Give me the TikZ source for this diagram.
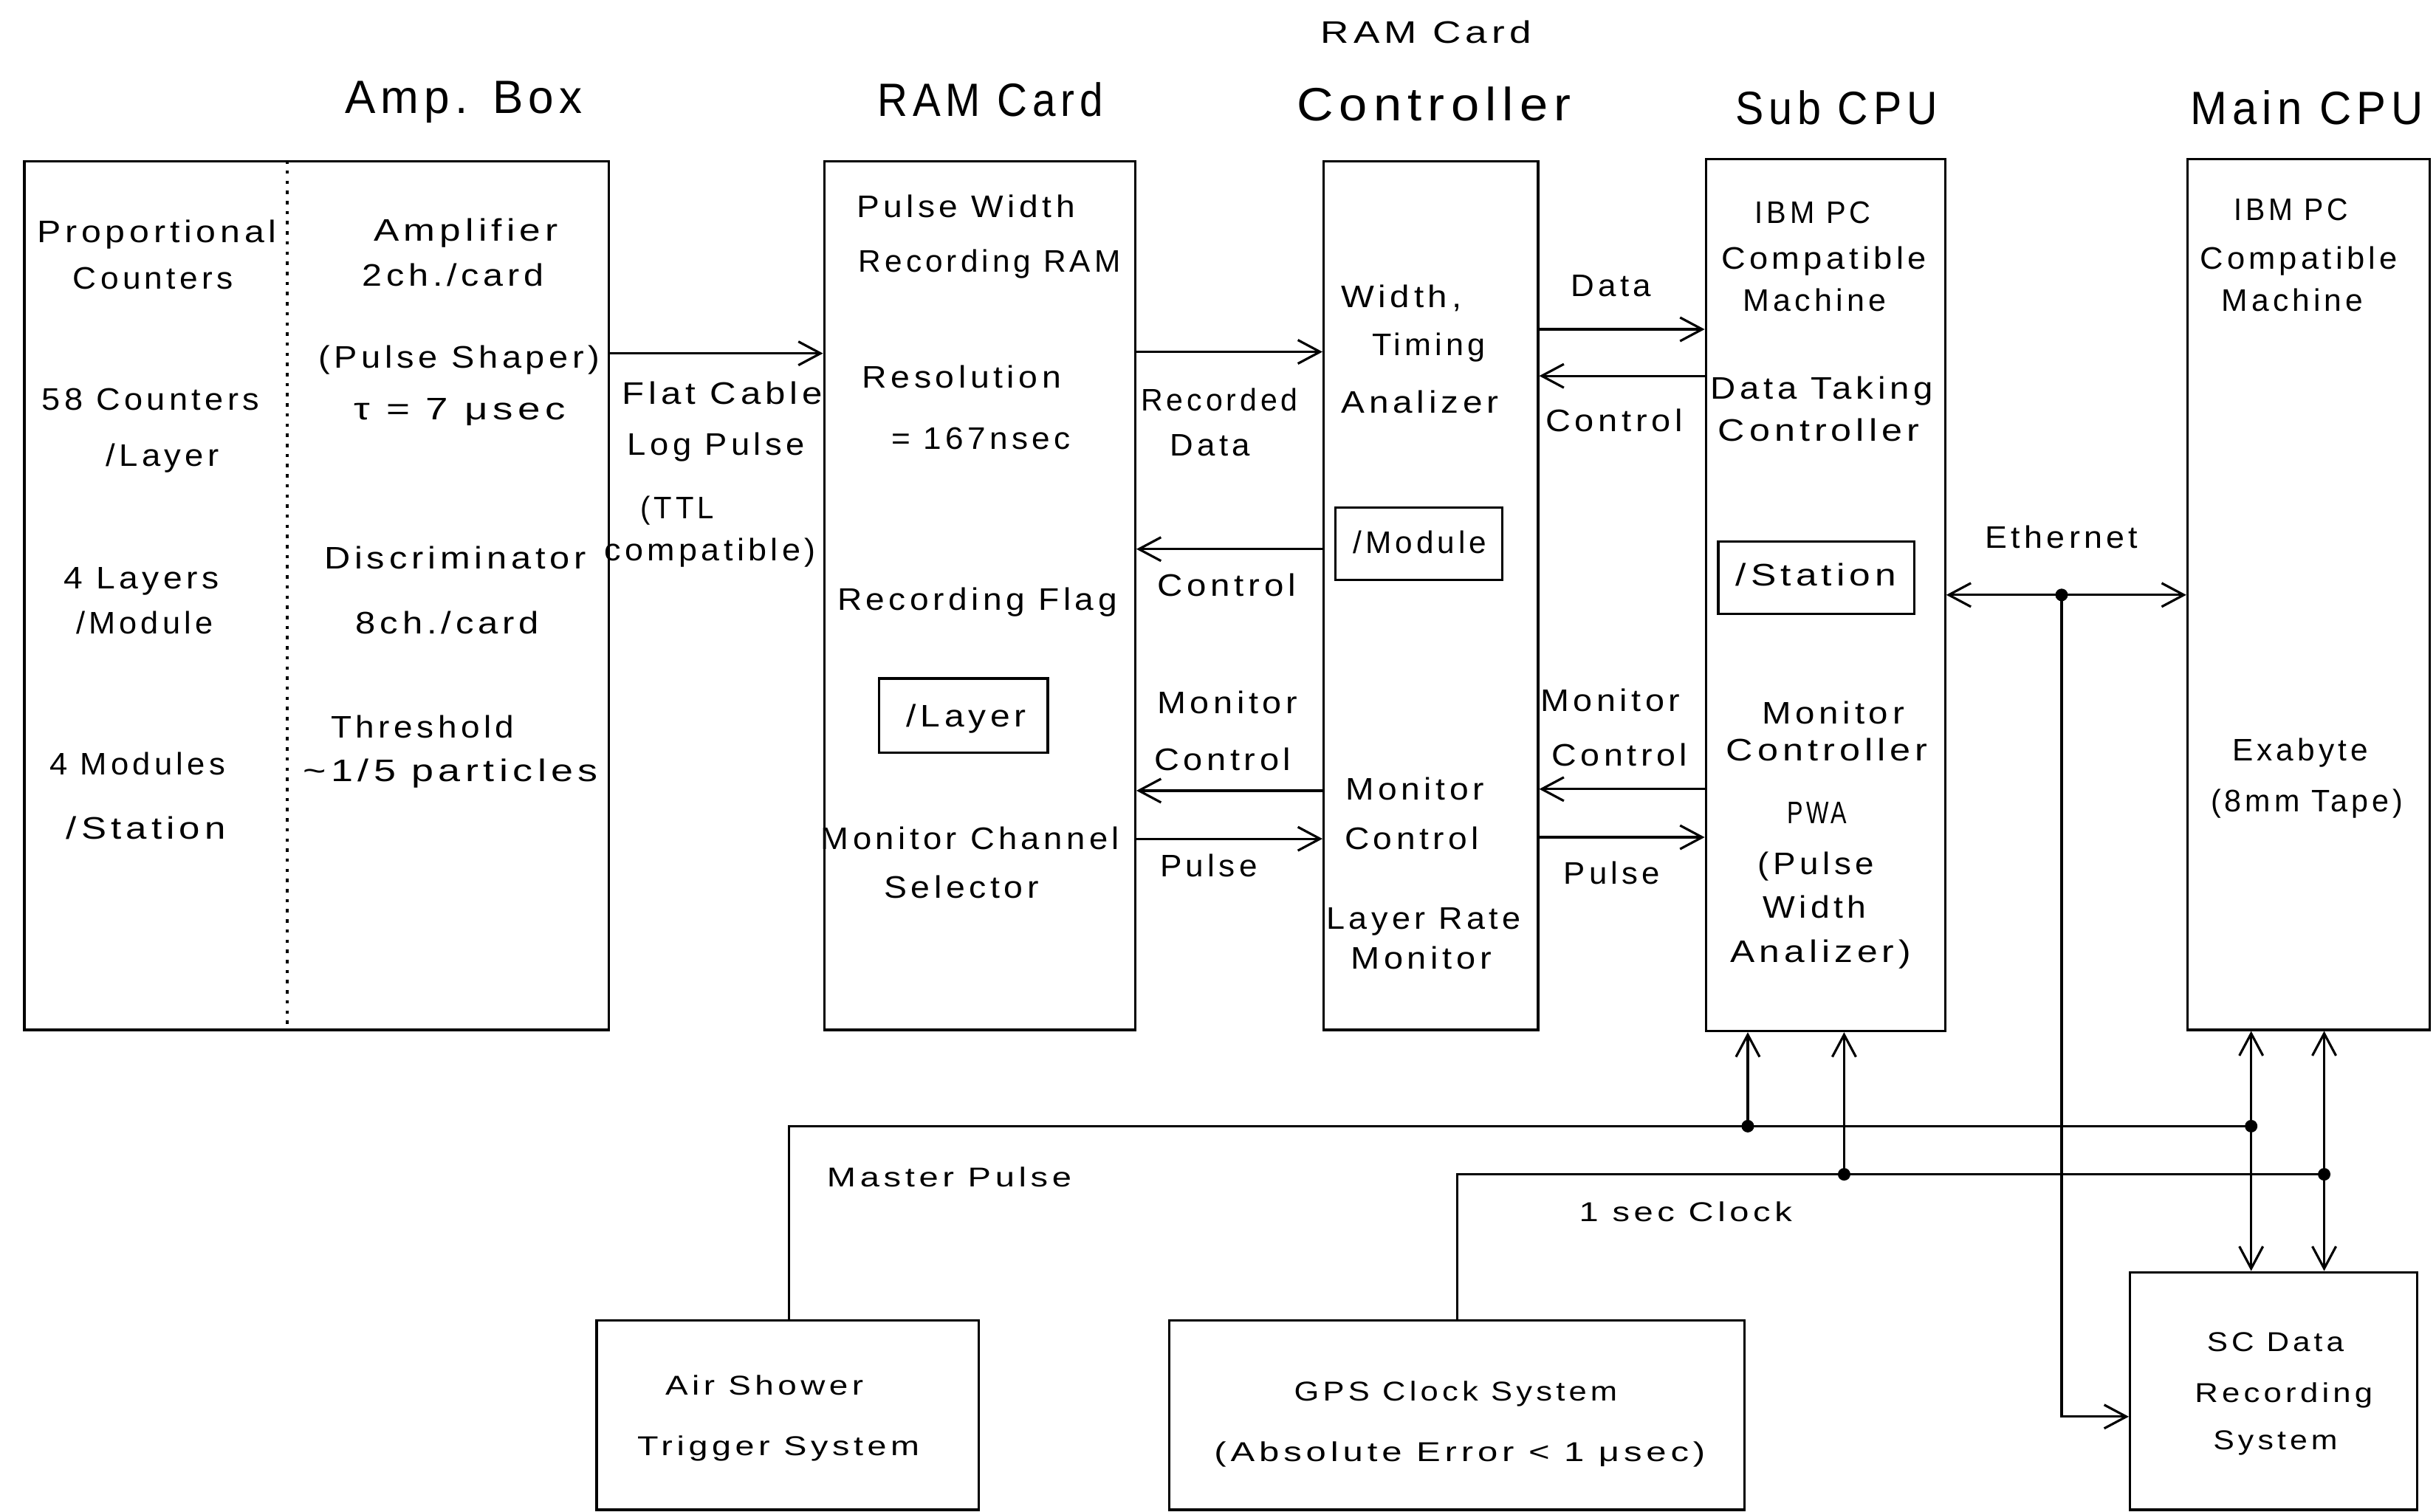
\documentclass[tikz,border=0pt]{standalone}
\usepackage{fontspec}
\setmainfont{Liberation Sans}[LetterSpace=12]
\usetikzlibrary{arrows.meta,fit}
\newlength\upx
\setlength\upx{0.02104cm}
\newcommand\fitw[2]{\resizebox{#1\upx}{\height}{#2}}
\begin{document}
\begin{tikzpicture}[x=0.02104cm,y=-0.02104cm, line width=0.9pt,
  box/.style={draw, inner sep=0pt},
  body/.style={anchor=base, inner sep=0pt, font=\fontsize{12}{14}\selectfont},
  ttl/.style={anchor=base, inner sep=0pt, font=\fontsize{18}{20}\selectfont},
  stl/.style={anchor=base, inner sep=0pt, font=\fontsize{12}{14}\selectfont},
  bot/.style={anchor=base, inner sep=0pt, font=\fontsize{10.5}{12}\selectfont},
  arr/.style={-{Straight Barb[length=3mm,width=3.2mm]}},
  darr/.style={{Straight Barb[length=3mm,width=3.2mm]}-{Straight Barb[length=3mm,width=3.2mm]}},
  dot/.style={circle, fill, inner sep=0pt, minimum size=0.17cm}]

\useasboundingbox[fill=white] (0,0) rectangle (1568,973);

% ---------- boxes ----------
\node[box, fit={(15.7,104) (392,663)}] (amp) {};
\node[box, fit={(530.5,104) (730.7,663)}] (ram) {};
\node[box, fit={(852,104) (990,663)}] (ctrl) {};
\node[box, fit={(1098,102.5) (1252,663.8)}] (sub) {};
\node[box, fit={(1408,102.5) (1564,663)}] (main) {};
\node[box, fit={(566,436.8) (674.4,484.5)}] (layerbox) {};
\node[box, fit={(859.6,326.6) (966.8,373.2)}] (modbox) {};
\node[box, fit={(1106,348.7) (1232,395.3)}] (stabox) {};
\node[box, fit={(384,850) (630,972)}] (air) {};
\node[box, fit={(752.5,850) (1123,972)}] (gps) {};
\node[box, fit={(1371,819) (1556,972)}] (sc) {};

% dotted divider in Amp. Box
\coordinate (dv) at (185,0);
\draw[dash pattern=on 1.3pt off 2.6pt, line width=1.1pt] (amp.north -| dv) -- (amp.south -| dv);

% ---------- titles ----------
\node[stl] (tRC) at (918,27.7) {\fitw{136}{RAM Card}};
\node[ttl] (tAmp) at (298.5,73) {\fitw{153}{Amp. Box}};
\node[ttl] (tRAM) at (637.5,75) {\fitw{145}{RAM Card}};
\node[ttl] (tCtrl) at (923,77.6) {\fitw{176.7}{Controller}};
\node[ttl] (tSub) at (1182,80) {\fitw{130}{Sub CPU}};
\node[ttl] (tMain) at (1485,80) {\fitw{150}{Main CPU}};

% ---------- Amp. Box texts ----------
\node[body] (a1) at (101,156) {\fitw{154}{Proportional}};
\node[body] (a2) at (98.5,186) {\fitw{103}{Counters}};
\node[body] (a3) at (97,264) {\fitw{140}{58 Counters}};
\node[body] (a4) at (104.6,300) {\fitw{73}{/Layer}};
\node[body] (a5) at (91,379) {\fitw{100}{4 Layers}};
\node[body] (a6) at (93,408) {\fitw{88}{/Module}};
\node[body] (a7) at (88.5,499) {\fitw{113}{4 Modules}};
\node[body] (a8) at (94,540) {\fitw{102.5}{/Station}};

\node[body] (b1) at (300,155) {\fitw{118.5}{Amplifier}};
\node[body] (b2) at (291.6,184) {\fitw{117}{2ch./card}};
\node[body] (b3) at (295.6,237) {\fitw{181}{(Pulse Shaper)}};
\node[body] (b4) at (296,270) {\fitw{136}{τ = 7 μsec}};
\node[body] (b5) at (293,366) {\fitw{168.5}{Discriminator}};
\node[body] (b6) at (288,408) {\fitw{118}{8ch./card}};
\node[body] (b7) at (272,475) {\fitw{118}{Threshold}};
\node[body] (b8) at (290,503) {\fitw{190}{\textasciitilde 1/5 particles}};

% flat cable labels
\node[body] (f1) at (465,260) {\fitw{129}{Flat Cable}};
\node[body] (f2) at (461,293) {\fitw{114}{Log Pulse}};
\node[body] (f3) at (436,334) {\fitw{47}{(TTL}};
\node[body] (f4) at (457,361) {\fitw{136}{compatible)}};

% ---------- RAM Card texts ----------
\node[body] (r1) at (621.7,140) {\fitw{140.6}{Pulse Width}};
\node[body] (r2) at (637,175) {\fitw{168.7}{Recording RAM}};
\node[body] (r3) at (619,250) {\fitw{128}{Resolution}};
\node[body] (r4) at (631.5,289) {\fitw{115}{= 167nsec}};
\node[body] (r5) at (629,393) {\fitw{180}{Recording Flag}};
\node[body] (r6) at (622,468) {\fitw{77}{/Layer}};
\node[body] (r7) at (624.5,547) {\fitw{192}{Monitor Channel}};
\node[body] (r8) at (618.8,578) {\fitw{99.5}{Selector}};

% RAM <-> Controller labels
\node[body] (l1) at (785,264.5) {\fitw{101}{Recorded}};
\node[body] (l2) at (779,293.6) {\fitw{51.4}{Data}};
\node[body] (l3) at (789.6,384) {\fitw{89}{Control}};
\node[body] (l4) at (790,459.3) {\fitw{90}{Monitor}};
\node[body] (l5) at (787,496) {\fitw{88}{Control}};
\node[body] (l6) at (778,564.5) {\fitw{62.5}{Pulse}};

% ---------- Controller texts ----------
\node[body] (c1) at (902,198) {\fitw{77.5}{Width,}};
\node[body] (c2) at (919.6,229) {\fitw{73}{Timing}};
\node[body] (c3) at (914,266) {\fitw{101}{Analizer}};
\node[body] (c4) at (914,356) {\fitw{86}{/Module}};
\node[body] (c5) at (910.7,515) {\fitw{89}{Monitor}};
\node[body] (c6) at (908.8,547) {\fitw{86.5}{Control}};
\node[body] (c7) at (916.4,598) {\fitw{125}{Layer Rate}};
\node[body] (c8) at (914.8,624) {\fitw{90.5}{Monitor}};

% Controller <-> Sub CPU labels
\node[body] (m1) at (1037,191) {\fitw{51.6}{Data}};
\node[body] (m2) at (1039,278) {\fitw{88}{Control}};
\node[body] (m3) at (1036.5,458) {\fitw{90}{Monitor}};
\node[body] (m4) at (1042.5,493) {\fitw{87.3}{Control}};
\node[body] (m5) at (1037.5,569) {\fitw{62}{Pulse}};

% ---------- Sub CPU texts ----------
\node[body] (s1) at (1167,144) {\fitw{74.5}{IBM PC}};
\node[body] (s2) at (1174,173.4) {\fitw{132}{Compatible}};
\node[body] (s3) at (1168,200.5) {\fitw{92}{Machine}};
\node[body] (s4) at (1172.6,257) {\fitw{143}{Data Taking}};
\node[body] (s5) at (1170.6,284) {\fitw{129.4}{Controller}};
\node[body] (s6) at (1169,377) {\fitw{103.5}{/Station}};
\node[body] (s7) at (1180,466) {\fitw{91.4}{Monitor}};
\node[body] (s8) at (1176,490) {\fitw{129.6}{Controller}};
\node[body] (s9) at (1169.6,530) {\fitw{38}{PWA}};
\node[body] (s10) at (1168.9,563) {\fitw{74.6}{(Pulse}};
\node[body] (s11) at (1168,591) {\fitw{66.8}{Width}};
\node[body] (s12) at (1172,619.5) {\fitw{116}{Analizer)}};

% ---------- Main CPU texts ----------
\node[body] (p1) at (1474.7,142) {\fitw{73.4}{IBM PC}};
\node[body] (p2) at (1479.6,173.4) {\fitw{127}{Compatible}};
\node[body] (p3) at (1475.6,200.5) {\fitw{91}{Machine}};
\node[body] (p4) at (1480.5,490) {\fitw{87.3}{Exabyte}};
\node[body] (p5) at (1484.8,522.6) {\fitw{123.4}{(8mm Tape)}};
\node[body] (e1) at (1327,353) {\fitw{98.3}{Ethernet}};

% ---------- bottom texts ----------
\node[bot] (q1) at (611,764) {\fitw{157.4}{Master Pulse}};
\node[bot] (q2) at (1085,786.4) {\fitw{137}{1 sec Clock}};
\node[bot] (q3) at (492,898) {\fitw{127.5}{Air Shower}};
\node[bot] (q4) at (501,937) {\fitw{181.6}{Trigger System}};
\node[bot] (q5) at (937,902) {\fitw{208}{GPS Clock System}};
\node[bot] (q6) at (939.6,941) {\fitw{316}{(Absolute Error < 1 μsec)}};
\node[bot] (q7) at (1464.6,870) {\fitw{88}{SC Data}};
\node[bot] (q8) at (1470,903) {\fitw{114.5}{Recording}};
\node[bot] (q9) at (1464.6,933) {\fitw{80}{System}};

% ---------- horizontal connectors ----------
\coordinate (yFC) at (0,227.5);
\draw[arr] (amp.east |- yFC) -- (ram.west |- yFC);
\coordinate (yRD) at (0,226.5);
\draw[arr] (ram.east |- yRD) -- (ctrl.west |- yRD);
\coordinate (yCa) at (0,353.5);
\draw[arr] (ctrl.west |- yCa) -- (ram.east |- yCa);
\coordinate (yMa) at (0,509);
\draw[arr] (ctrl.west |- yMa) -- (ram.east |- yMa);
\coordinate (yPa) at (0,540);
\draw[arr] (ram.east |- yPa) -- (ctrl.west |- yPa);
\coordinate (yDb) at (0,212);
\draw[arr] (ctrl.east |- yDb) -- (sub.west |- yDb);
\coordinate (yCb) at (0,242);
\draw[arr] (sub.west |- yCb) -- (ctrl.east |- yCb);
\coordinate (yMb) at (0,508);
\draw[arr] (sub.west |- yMb) -- (ctrl.east |- yMb);
\coordinate (yPb) at (0,539);
\draw[arr] (ctrl.east |- yPb) -- (sub.west |- yPb);

% ---------- Ethernet ----------
\node[dot] (eth) at (1327,383) {};
\draw[darr] (sub.east |- eth) -- (main.west |- eth);
\coordinate (ethc) at (1327,912);
\draw[arr] (eth.center) -- (ethc) -- (sc.west |- ethc);

% ---------- Master Pulse ----------
\node[dot] (jm1) at (1125,725) {};
\node[dot] (jm2) at (1449,725) {};
\coordinate (mp) at (508,725);
\draw (air.north -| mp) -- (mp) -- (jm2.center);
\draw[arr] (jm1.center) -- (jm1.center |- sub.south);
\draw[arr] (jm2.center) -- (jm2.center |- main.south);
\draw[arr] (jm2.center) -- (jm2.center |- sc.north);

% ---------- 1 sec Clock ----------
\node[dot] (jc1) at (1187,756) {};
\node[dot] (jc2) at (1496,756) {};
\coordinate (ck) at (938,756);
\draw (gps.north -| ck) -- (ck) -- (jc2.center);
\draw[arr] (jc1.center) -- (jc1.center |- sub.south);
\draw[arr] (jc2.center) -- (jc2.center |- main.south);
\draw[arr] (jc2.center) -- (jc2.center |- sc.north);

\end{tikzpicture}
\end{document}
